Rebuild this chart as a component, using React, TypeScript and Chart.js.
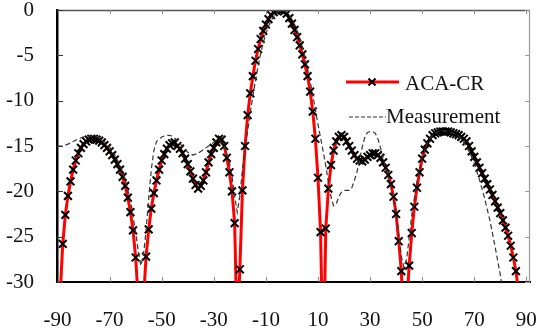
import React, { useEffect, useRef } from "react";
import { Chart, registerables } from "chart.js";

Chart.register(...registerables);

// ---- Data ----
const acaAngles = [
  -90, -89, -88, -87, -86, -85, -84, -83, -82, -81, -80, -79, -78, -77, -76, -75, -74, -73, -72, -71,
  -70, -69, -68, -67, -66, -65, -64, -63, -62, -61, -60, -59, -58, -57, -56, -55, -54, -53, -52, -51,
  -50, -49, -48, -47, -46, -45, -44, -43, -42, -41, -40, -39, -38, -37, -36, -35, -34, -33, -32, -31,
  -30, -29, -28, -27, -26, -25, -24, -23, -22, -21, -20, -19, -18, -17, -16, -15, -14, -13, -12, -11,
  -10, -9, -8, -7, -6, -5, -4, -3, -2, -1, 0, 1, 2, 3, 4, 5, 6, 7, 8, 9,
  10, 11, 12, 13, 14, 15, 16, 17, 18, 19, 20, 21, 22, 23, 24, 25, 26, 27, 28, 29,
  30, 31, 32, 33, 34, 35, 36, 37, 38, 39, 40, 41, 42, 43, 44, 45, 46, 47, 48, 49,
  50, 51, 52, 53, 54, 55, 56, 57, 58, 59, 60, 61, 62, 63, 64, 65, 66, 67, 68, 69,
  70, 71, 72, 73, 74, 75, 76, 77, 78, 79, 80, 81, 82, 83, 84, 85, 86, 87, 88, 89, 90,
];
const acaValues = [
  -38, -31.5, -25.8, -22.6, -20.5, -18.9, -17.6, -16.6, -15.8, -15.2, -14.8, -14.5, -14.3, -14.2, -14.2, -14.3, -14.4, -14.6, -14.9, -15.2,
  -15.6, -16.0, -16.5, -17.0, -17.6, -18.4, -19.4, -20.7, -22.3, -24.3, -27.3, -32, -42, -32, -27.2, -24.2, -21.9, -20.2, -18.8, -17.6,
  -16.6, -15.9, -15.3, -14.9, -14.7, -14.6, -15.0, -15.3, -15.8, -16.4, -17.0, -17.8, -18.6, -19.3, -19.7, -19.4, -18.8, -17.9, -16.8, -15.9,
  -15.2, -14.6, -14.2, -14.3, -15.0, -16.3, -17.9, -20.0, -23.5, -36, -28.6, -19.9, -15.0, -11.6, -9.2, -7.3, -5.6, -4.3, -3.2, -2.3,
  -1.6, -1.0, -0.55, -0.25, -0.08, 0, -0.03, -0.15, -0.4, -0.9, -1.5, -2.2, -3.0, -3.9, -4.9, -6.0, -7.3, -9.0, -11.2, -14.2,
  -18.5, -24.5, -40, -24.1, -19.7, -17.1, -15.5, -14.5, -14.0, -13.8, -14.0, -14.5, -15.0, -15.5, -16.0, -16.4, -16.6, -16.7, -16.5, -16.2,
  -16.0, -15.8, -15.8, -16.0, -16.3, -16.8, -17.4, -18.2, -19.2, -20.6, -22.5, -25.5, -28.8, -36, -33, -28.2, -24.6, -21.7, -19.6, -17.9,
  -16.4, -15.4, -14.7, -14.2, -13.8, -13.6, -13.5, -13.4, -13.4, -13.4, -13.4, -13.5, -13.6, -13.7, -13.8, -14.0, -14.2, -14.5, -15.0, -15.6,
  -16.2, -16.8, -17.4, -18.0, -18.6, -19.2, -19.8, -20.4, -21.1, -21.8, -22.4, -23.2, -24.0, -24.9, -26.0, -27.3, -28.8, -31, -34, -38, -45,
];

const measAngles = [
  -90, -88, -86, -84, -82, -80, -78, -76, -74, -72, -70, -68, -66, -64, -62, -60, -59, -58, -57, -56,
  -55, -54, -53, -52, -50, -48, -46, -44, -42, -40, -38, -36, -34, -32, -30, -28, -26, -24, -23, -22,
  -21, -20, -19, -18, -17, -16, -15, -14, -13, -12, -11, -10, -9, -8, -7, -6, -5, -4, -3, -2,
  -1, 0, 1, 2, 3, 4, 5, 6, 7, 8, 9, 10, 11, 12, 13, 14, 15, 16, 17, 18,
  19, 20, 22, 23, 24, 25, 26, 27, 28, 29, 30, 31, 32, 33, 34, 35, 36, 38, 40, 41,
  42, 43, 44, 45, 46, 48, 50, 52, 54, 56, 58, 60, 62, 64, 66, 68, 70, 72, 74, 76,
  78, 80, 81, 82,
];
const measValues = [
  -15.0, -15.0, -14.8, -14.5, -14.2, -14.0, -13.9, -13.9, -14.1, -14.5, -15.1, -16.0, -17.1, -18.7, -21.0, -24.5, -26.6, -28.2, -27.0, -24.3,
  -20.8, -17.6, -15.5, -14.5, -14.0, -13.8, -13.9, -14.4, -15.1, -15.7, -16.0, -15.8, -15.4, -15.0, -14.6, -14.3, -15.0, -16.8, -18.4, -20.6,
  -22.3, -20.5, -17.6, -15.3, -13.3, -11.3, -9.5, -7.8, -6.2, -4.8, -3.6, -2.6, -1.8, -1.2, -0.7, -0.35, -0.12, 0, -0.05, -0.25,
  -0.6, -1.0, -1.6, -2.3, -3.1, -4.1, -5.2, -6.5, -7.9, -9.4, -11.0, -12.6, -14.1, -15.6, -17.2, -19.0, -20.6, -21.6, -21.4, -20.6,
  -20.1, -19.9, -19.9, -19.6, -18.8, -17.8, -16.5, -15.1, -14.0, -13.5, -13.4, -13.4, -13.6, -14.2, -15.2, -16.3, -17.4, -19.3, -22.4, -24.8,
  -27.2, -28.4, -27.5, -25.2, -22.6, -19.0, -16.3, -14.6, -13.8, -13.4, -13.3, -13.4, -13.6, -13.9, -14.6, -15.6, -16.9, -18.7, -20.8, -23.2,
  -26.1, -29.2, -31, -33,
];

const xTickValues = [-90, -70, -50, -30, -10, 10, 30, 50, 70, 90];
const yTickValues = [0, -5, -10, -15, -20, -25, -30];
const seriesNames = ["ACA-CR", "Measurement"];

const FONT = "'Liberation Serif', 'Times New Roman', Times, serif";

export default function App() {
  const ref = useRef<HTMLCanvasElement>(null);

  useEffect(() => {
    const canvas = ref.current;
    if (!canvas) return;

    const framePlugin = {
      id: "frameAndLegend",
      afterDatasetsDraw(chart: any) {
        const { ctx, chartArea: a, scales } = chart;
        const xs = scales.x;
        const ys = scales.y;
        const line = (x1: number, y1: number, x2: number, y2: number) => {
          ctx.beginPath();
          ctx.moveTo(x1, y1);
          ctx.lineTo(x2, y2);
          ctx.stroke();
        };
        ctx.save();
        // top & right frame
        ctx.lineWidth = 1.5;
        ctx.strokeStyle = "#555";
        line(a.left, a.top + 0.5, a.right, a.top + 0.5);
        ctx.strokeStyle = "#999";
        ctx.lineWidth = 1.2;
        line(a.right - 0.5, a.top, a.right - 0.5, a.bottom);
        // inner ticks
        ctx.lineWidth = 1;
        ctx.strokeStyle = "#888";
        xTickValues.forEach((v) => {
          const px = Math.round(xs.getPixelForValue(v)) + 0.5;
          line(px, a.bottom, px, a.bottom - 5);
          line(px, a.top, px, a.top + 4);
        });
        yTickValues.forEach((v) => {
          const py = Math.round(ys.getPixelForValue(v)) + 0.5;
          ctx.strokeStyle = "#333";
          line(a.left, py, a.left + 6, py);
          ctx.strokeStyle = "#999";
          line(a.right, py, a.right - 5, py);
        });
        ctx.restore();
      },
      afterDraw(chart: any) {
        const { ctx } = chart;
        ctx.save();
        // ACA-CR entry
        ctx.strokeStyle = "#ff0000";
        ctx.lineWidth = 3;
        ctx.beginPath();
        ctx.moveTo(346, 82);
        ctx.lineTo(399, 82);
        ctx.stroke();
        ctx.strokeStyle = "#000";
        ctx.lineWidth = 2;
        ctx.beginPath();
        ctx.moveTo(368.5, 78.5);
        ctx.lineTo(375.5, 85.5);
        ctx.moveTo(375.5, 78.5);
        ctx.lineTo(368.5, 85.5);
        ctx.stroke();
        // Measurement entry
        ctx.strokeStyle = "#333";
        ctx.lineWidth = 1.2;
        ctx.setLineDash([4, 2]);
        ctx.beginPath();
        ctx.moveTo(349, 117);
        ctx.lineTo(386, 117);
        ctx.stroke();
        ctx.setLineDash([]);
        ctx.fillStyle = "#111";
        ctx.font = `21px ${FONT}`;
        ctx.textBaseline = "alphabetic";
        ctx.textAlign = "left";
        ctx.fillText(seriesNames[0], 405, 90);
        ctx.fillText(seriesNames[1], 386, 123);
        ctx.restore();
      },
    };

    const hiddenTicks = (len: number) => ({
      display: true,
      drawOnChartArea: false,
      drawTicks: true,
      tickLength: len,
      color: "rgba(0,0,0,0)",
      tickColor: "rgba(0,0,0,0)",
    });

    const chart = new Chart(canvas, {
      type: "line",
      data: {
        datasets: [
          {
            label: seriesNames[0],
            data: acaAngles.map((a, i) => ({ x: a, y: acaValues[i] })),
            borderColor: "#ff0000",
            borderWidth: 3,
            pointStyle: "crossRot",
            pointRadius: 5.5,
            pointBorderColor: "#000",
            pointBackgroundColor: "#000",
            pointBorderWidth: 2,
            tension: 0,
            order: 1,
          },
          {
            label: seriesNames[1],
            data: measAngles.map((a, i) => ({ x: a, y: measValues[i] })),
            borderColor: "#333",
            borderWidth: 1.2,
            borderDash: [5, 3],
            pointRadius: 0,
            tension: 0,
            order: 0,
          },
        ],
      },
      options: {
        animation: false,
        responsive: false,
        maintainAspectRatio: false,
        layout: { padding: { top: 10, right: 8, left: 0, bottom: 0 } },
        plugins: { legend: { display: false }, tooltip: { enabled: false } },
        scales: {
          x: {
            type: "linear",
            min: -90.2,
            max: 91.4,
            afterBuildTicks: (s: any) => {
              s.ticks = xTickValues.map((v) => ({ value: v }));
            },
            afterFit: (s: any) => {
              s.height = 46;
            },
            grid: hiddenTicks(28),
            border: { display: true, color: "#000", width: 2 },
            ticks: {
              font: { family: FONT, size: 21, lineHeight: 1 },
              color: "#111",
              padding: 0,
              maxRotation: 0,
              autoSkip: false,
              callback: (v: any) => String(v),
            },
          },
          y: {
            type: "linear",
            min: -30,
            max: 0,
            afterBuildTicks: (s: any) => {
              s.ticks = yTickValues.map((v) => ({ value: v }));
            },
            afterFit: (s: any) => {
              s.width = 57;
            },
            grid: hiddenTicks(23),
            border: { display: true, color: "#000", width: 2.5 },
            ticks: {
              font: { family: FONT, size: 21, lineHeight: 0.9 },
              color: "#111",
              padding: 0,
              autoSkip: false,
              callback: (v: any) => String(v),
            },
          },
        },
      },
      plugins: [framePlugin],
    } as any);

    return () => chart.destroy();
  }, []);

  return (
    <div style={{ position: "fixed", left: 0, top: 0, width: 538, height: 328, background: "#fff" }}>
      <canvas ref={ref} width={538} height={328} style={{ width: 538, height: 328, display: "block" }} />
    </div>
  );
}
